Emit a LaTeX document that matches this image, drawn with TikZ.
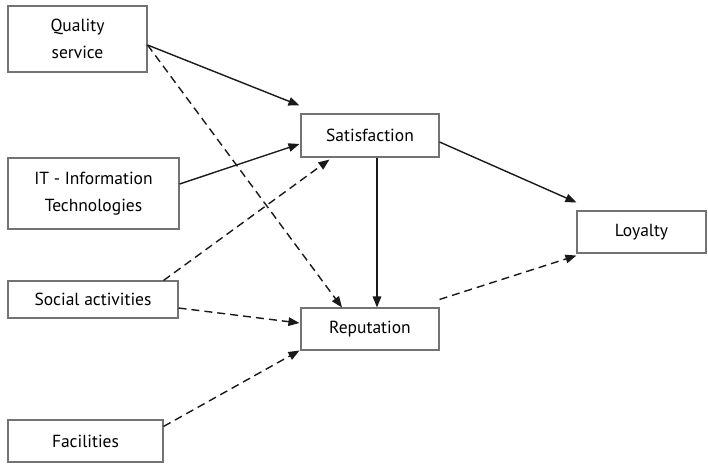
\documentclass[tikz,border=0pt]{standalone}
\usepackage{fontspec}
\setmainfont{PT Sans}
\usetikzlibrary{arrows.meta}
\begin{document}
\begin{tikzpicture}[x=1pt,y=-1pt,
  box/.style={draw=black!55,line width=1.1pt,inner sep=0pt,align=center,
    font=\fontsize{17.5}{27}\selectfont,text=black},
  solidarr/.style={line width=1.4pt,draw=black!90,-{Triangle[length=11pt,width=8.5pt]}},
  dasharr/.style={solidarr,dash pattern=on 8pt off 5pt}]
\useasboundingbox (0,0) rectangle (708,463);
\node[box,minimum width=139pt,minimum height=66pt] (qs) at (77.5,39) {Quality\\service};
\node[box,minimum width=171pt,minimum height=71pt] (it) at (93.5,193.5) {IT - Information\\Technologies};
\node[box,minimum width=170pt,minimum height=37pt] (soc) at (93,299.5) {Social activities};
\node[box,minimum width=155pt,minimum height=42pt] (fac) at (85.5,441) {Facilities};
\node[box,minimum width=138pt,minimum height=43pt] (sat) at (370,135.5) {Satisfaction};
\node[box,minimum width=138pt,minimum height=42pt] (rep) at (370,329) {Reputation};
\node[box,minimum width=129pt,minimum height=42pt] (loy) at (641.5,232) {Loyalty};
\draw[solidarr] ([yshift=-6pt]qs.east) -- ([shift={(-1pt,8pt)}]sat.north west);
\draw[dasharr] ([yshift=-6pt]qs.east) -- ([xshift=-28pt]rep.north);
\draw[solidarr] ([yshift=9.5pt]it.east) -- ([shift={(-1pt,-8.5pt)}]sat.west);
\draw[dasharr] ([xshift=-15pt]soc.north east) -- ([shift={(29pt,-2pt)}]sat.south west);
\draw[dasharr] ([yshift=-8.5pt]soc.east) -- ([shift={(-1pt,6pt)}]rep.west);
\draw[dasharr] ([yshift=-7pt]fac.north east) -- ([xshift=-1pt]rep.south west);
\draw[solidarr] ([xshift=7pt]sat.south) -- ([xshift=7pt]rep.north);
\draw[solidarr] ([yshift=-6.5pt]sat.east) -- ([yshift=8pt]loy.north west);
\draw[dasharr] ([yshift=8pt]rep.north east) -- ([yshift=-2pt]loy.south west);
\end{tikzpicture}
\end{document}
